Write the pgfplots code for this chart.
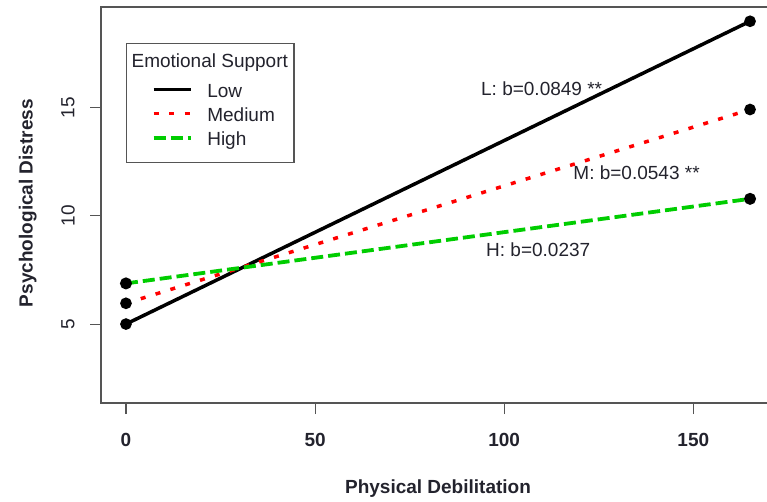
\documentclass[border=0pt]{standalone}
\usepackage{fontspec}
\setmainfont{Liberation Sans}
\usepackage{pgfplots}
\pgfplotsset{compat=1.18}
\definecolor{rgreen}{RGB}{0,205,0}
\definecolor{rred}{RGB}{255,0,0}
\definecolor{boxgray}{RGB}{85,85,85}
\definecolor{txt}{RGB}{35,35,45}
\newcommand{\chartfont}{\fontsize{19}{23}\selectfont}
\begin{document}
\begin{tikzpicture}[x=1pt,y=1pt]
\useasboundingbox (-101,-98) rectangle (666,403);
\begin{axis}[
    at={(0pt,0pt)}, anchor=south west,
    scale only axis,
    width=674pt, height=396pt,
    xmin=-6.6, xmax=171.6,
    ymin=1.35, ymax=19.66,
    xtick={0,50,100,150},
    ytick={5,10,15},
    xtick pos=left, ytick pos=left,
    tick align=outside,
    major tick length=11pt,
    axis line style={boxgray, line width=1.3pt},
    tick style={boxgray, line width=1.1pt},
    /pgf/number format/assume math mode=true,
    xticklabel style={font=\chartfont\bfseries, text=txt, anchor=center, yshift=-26pt},
    yticklabel style={font=\chartfont, text=txt, xshift=-22pt, rotate=90, anchor=center},
    xlabel={\bfseries Physical Debilitation},
    ylabel={\bfseries Psychological Distress},
    label style={font=\chartfont, text=txt},
    x label style={at={(axis description cs:0.5,-0.217)}, anchor=center},
    y label style={at={(axis description cs:-0.1085,0.505)}, anchor=center, rotate=0},
    legend style={at={(0.0371,0.909)}, anchor=north west,
        draw=boxgray, line width=1.2pt, font=\chartfont, text=txt,
        inner xsep=0pt, inner ysep=13pt,
        nodes={inner sep=0pt, text height=20pt, text depth=4pt}},
    legend cell align=left,
    legend image code/.code={
        \path[draw=none, fill=none] (0pt,0pt) -- (80.7pt,0pt);
        \draw[#1] (27pt,0pt) -- (64pt,0pt);
    },
    clip=false,
]
\addlegendimage{empty legend}
\addlegendentry[text height=11pt, text depth=10pt]{\hspace*{-75.7pt}Emotional Support\hspace*{6pt}}

\addplot[black, line width=3.5pt, mark=*, mark size=4pt,
    mark options={solid, fill=black}] coordinates {(0,5.0) (165,19.0)};
\addlegendentry{Low}

\addplot[rred, line width=3.5pt, dash pattern=on 5pt off 10.5pt, mark=*, mark size=4pt,
    mark options={solid, draw=black, fill=black}] coordinates {(0,5.96) (165,14.92)};
\addlegendentry{Medium}

\addplot[rgreen, line width=3.8pt, dash pattern=on 12pt off 5pt, mark=*, mark size=4pt,
    mark options={solid, draw=black, fill=black}] coordinates {(0,6.88) (165,10.79)};
\addlegendentry{High}

\node[font=\chartfont, text=txt] at (axis cs:109.9,15.9) {L: b=0.0849 **};
\node[font=\chartfont, text=txt] at (axis cs:135,12.0) {M: b=0.0543 **};
\node[font=\chartfont, text=txt] at (axis cs:109,8.45) {H: b=0.0237};
\end{axis}
\end{tikzpicture}
\end{document}
